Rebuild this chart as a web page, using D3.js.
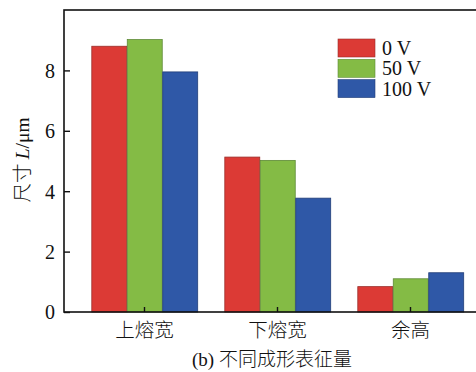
<!DOCTYPE html>
<html>
<head>
<meta charset="utf-8">
<script src="https://cdn.jsdelivr.net/npm/d3@7/dist/d3.min.js"></script>
<style>
  html, body { margin: 0; padding: 0; background: #fff; }
  svg { display: block; }
  text { font-family: "Liberation Serif", "Times New Roman", "Noto Sans CJK SC", serif; fill: #111; }
</style>
</head>
<body>
<svg id="chart" width="476" height="372"></svg>
<script>
const categories = ["上熔宽", "下熔宽", "余高"];
const seriesNames = ["0 V", "50 V", "100 V"];
const values0V = [8.80, 5.13, 0.84];
const values50V = [9.02, 5.02, 1.10];
const values100V = [7.95, 3.77, 1.30];
const yTicks = [0, 2, 4, 6, 8];
const colors = ["#dc3a35", "#84bb45", "#2f58a7"];
const strokes = ["#9a2e2a", "#5e8a36", "#233f78"];

const seriesValues = [values0V, values50V, values100V];
const data = categories.map((c, i) => ({ cat: c, vals: seriesNames.map((s, j) => ({ s, j, v: seriesValues[j][i] })) }));

const svg = d3.select("#chart");
const pLeft = 64, pTop = 10, pRight = 491, pBottom = 312;

const y = d3.scaleLinear().domain([0, 10]).range([pBottom, pTop]);
const x0 = d3.scaleBand().domain(categories).range([78, 477]).paddingInner(0.2).paddingOuter(0.1);
const x1 = d3.scaleBand().domain(seriesNames).range([0, x0.bandwidth()]);

// bars
const g = svg.append("g");
g.selectAll("g.grp").data(data).enter().append("g")
  .attr("transform", d => `translate(${x0(d.cat)},0)`)
  .selectAll("rect").data(d => d.vals).enter().append("rect")
  .attr("x", d => x1(d.s) + 0.5)
  .attr("y", d => y(d.v))
  .attr("width", x1.bandwidth() - 0.5)
  .attr("height", d => y(0) - y(d.v))
  .attr("fill", d => colors[d.j])
  .attr("stroke", d => strokes[d.j])
  .attr("stroke-width", 0.8);

// frame
svg.append("rect").attr("x", pLeft).attr("y", pTop).attr("width", pRight - pLeft).attr("height", pBottom - pTop)
  .attr("fill", "none").attr("stroke", "#111").attr("stroke-width", 1.6);

// y axis (inward ticks)
const yAxis = d3.axisRight(y).tickValues(yTicks).tickSize(6).tickFormat(d3.format("d"));
const ya = svg.append("g").attr("transform", `translate(${pLeft},0)`).call(yAxis);
ya.select(".domain").remove();
ya.selectAll(".tick line").attr("stroke", "#111").attr("stroke-width", 1.4);
ya.selectAll(".tick text").attr("x", -9).attr("text-anchor", "end").attr("dy", "0.34em")
  .style("font-size", "20px").style("font-family", "'Liberation Serif', serif");

// x axis (inward ticks)
const xAxis = d3.axisTop(x0).tickSize(5);
const xa = svg.append("g").attr("transform", `translate(0,${pBottom})`).call(xAxis);
xa.select(".domain").remove();
xa.selectAll(".tick line").attr("stroke", "#111").attr("stroke-width", 1.4);
xa.selectAll(".tick text").attr("y", 25).attr("dy", 0)
  .style("font-size", "19.5px").style("font-family", "'Noto Sans CJK SC', sans-serif").style("font-weight", "300");

// x title
svg.append("text").attr("x", 272).attr("y", 366).attr("text-anchor", "middle")
  .style("font-size", "19px")
  .call(t => {
    t.append("tspan").style("font-family", "'Liberation Serif', serif").text("(b) ");
    t.append("tspan").style("font-family", "'Noto Sans CJK SC', sans-serif").style("font-weight", "300").text("不同成形表征量");
  });

// y title
svg.append("text").attr("transform", "translate(29,160) rotate(-90)").attr("text-anchor", "middle")
  .style("font-size", "19.5px")
  .call(t => {
    t.append("tspan").style("font-family", "'Noto Sans CJK SC', sans-serif").style("font-weight", "300").text("尺寸 ");
    t.append("tspan").style("font-style", "italic").style("font-family", "'Liberation Serif', serif").text("L");
    t.append("tspan").style("font-family", "'Liberation Serif', serif").text("/μm");
  });

// legend
const lg = svg.append("g").attr("transform", "translate(338,39)");
const items = lg.selectAll("g").data(seriesNames).enter().append("g")
  .attr("transform", (d, i) => `translate(0,${i * 20.3})`);
items.append("rect").attr("width", 37).attr("height", 18)
  .attr("fill", (d, i) => colors[i]).attr("stroke", (d, i) => strokes[i]).attr("stroke-width", 0.6);
items.append("text").attr("x", 44).attr("y", 16).style("font-size", "20px").text(d => d);
</script>
</body>
</html>
